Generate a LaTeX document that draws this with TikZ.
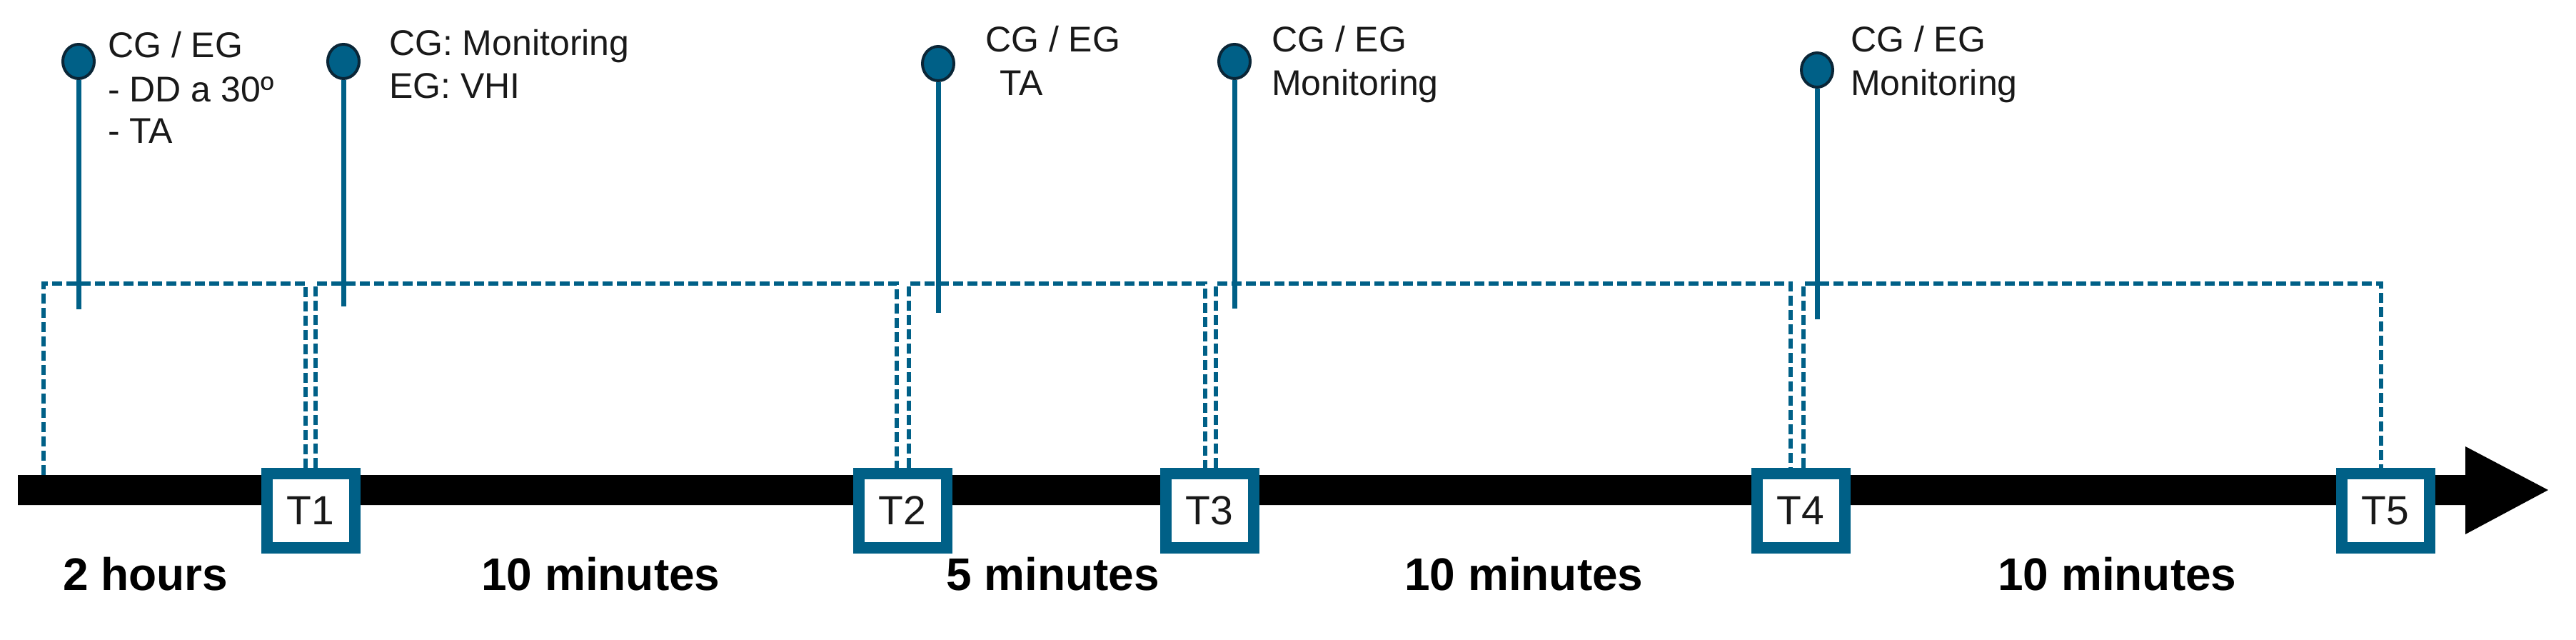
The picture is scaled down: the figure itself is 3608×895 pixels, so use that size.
\documentclass[tikz,border=0pt]{standalone}
\usepackage{fontspec}
\setmainfont{Liberation Sans}
\usetikzlibrary{calc,shapes.geometric}
\definecolor{tblue}{RGB}{0,96,135}
\definecolor{pinline}{RGB}{10,38,55}
\definecolor{ink}{RGB}{25,25,25}
\begin{document}
\begin{tikzpicture}[x=1pt,y=-1pt,
  pin/.style={ellipse, draw=pinline, line width=4pt, fill=tblue, minimum width=44pt, minimum height=48pt, inner sep=0pt},
  stem/.style={draw=tblue, line width=7pt},
  tbox/.style={rectangle, draw=tblue, line width=16pt, fill=white, minimum width=123pt, minimum height=104pt, inner sep=0pt, font=\fontsize{57}{60}\selectfont, text=ink},
  note/.style={anchor=base west, inner sep=0pt, font=\fontsize{50}{60}\selectfont, text=ink},
  dur/.style={anchor=base west, inner sep=0pt, font=\bfseries\fontsize{64}{72}\selectfont, text=black},
  dl/.style={draw=tblue, line width=6pt, dash pattern=on 14pt off 6pt}]
\useasboundingbox (0,0) rectangle (3608,895);

% timeline arrow
\fill[black] (25,665) -- (3453,665) -- (3453,625) -- (3569,686) -- (3453,748) -- (3453,707) -- (25,707) -- cycle;

% helper coordinates
\coordinate (top) at (0,397);
\coordinate (s0) at (61,665);

% boxes
\node[tbox] (T1) at (435,715) {T1};
\node[tbox] (T2) at (1264,715) {T2};
\node[tbox] (T3) at (1694,715) {T3};
\node[tbox] (T4) at (2522,715) {T4};
\node[tbox] (T5) at (3341,715) {T5};

% dashed brackets
\draw[dl] (s0) -- (s0 |- top) -- ([xshift=-7pt]T1.north |- top) -- ([xshift=-7pt]T1.north);
\draw[dl] ([xshift=7pt]T1.north) -- ([xshift=7pt]T1.north |- top) -- ([xshift=-8pt]T2.north |- top) -- ([xshift=-8pt]T2.north);
\draw[dl] ([xshift=9pt]T2.north) -- ([xshift=9pt]T2.north |- top) -- ([xshift=-6pt]T3.north |- top) -- ([xshift=-6pt]T3.north);
\draw[dl] ([xshift=9pt]T3.north) -- ([xshift=9pt]T3.north |- top) -- ([xshift=-14pt]T4.north |- top) -- ([xshift=-14pt]T4.north);
\draw[dl] ([xshift=4pt]T4.north) -- ([xshift=4pt]T4.north |- top) -- ([xshift=-6pt]T5.north |- top) -- ([xshift=-6pt]T5.north);

% pins
\node[pin] (p1) at (110,86) {};
\node[pin] (p2) at (481,86) {};
\node[pin] (p3) at (1314,89) {};
\node[pin] (p4) at (1729,86) {};
\node[pin] (p5) at (2545,98) {};
\coordinate (e1) at (110,433);
\coordinate (e2) at (481,429);
\coordinate (e3) at (1314,438);
\coordinate (e4) at (1729,432);
\coordinate (e5) at (2545,447);
\draw[stem] (p1.south) -- (e1);
\draw[stem] (p2.south) -- (e2);
\draw[stem] (p3.south) -- (e3);
\draw[stem] (p4.south) -- (e4);
\draw[stem] (p5.south) -- (e5);

% pin texts
\node[note] (n1a) at (151,80) {CG / EG};
\node[note] (n1b) at (151,142) {- DD a 30º};
\node[note] (n1c) at (151,200) {- TA};
\node[note] (n2a) at (545,77) {CG: Monitoring};
\node[note] (n2b) at (545,137) {EG: VHI};
\node[note] (n3a) at (1380,72) {CG / EG};
\node[note] (n3b) at (1400,133) {TA};
\node[note] (n4a) at (1781,72) {CG / EG};
\node[note] (n4b) at (1781,133) {Monitoring};
\node[note] (n5a) at (2592,72) {CG / EG};
\node[note] (n5b) at (2592,133) {Monitoring};

% durations
\node[dur] (d1) at (88,826) {2 hours};
\node[dur] (d2) at (674,826) {10 minutes};
\node[dur] (d3) at (1325,826) {5 minutes};
\node[dur] (d4) at (1967,826) {10 minutes};
\node[dur] (d5) at (2798,826) {10 minutes};
\end{tikzpicture}
\end{document}
